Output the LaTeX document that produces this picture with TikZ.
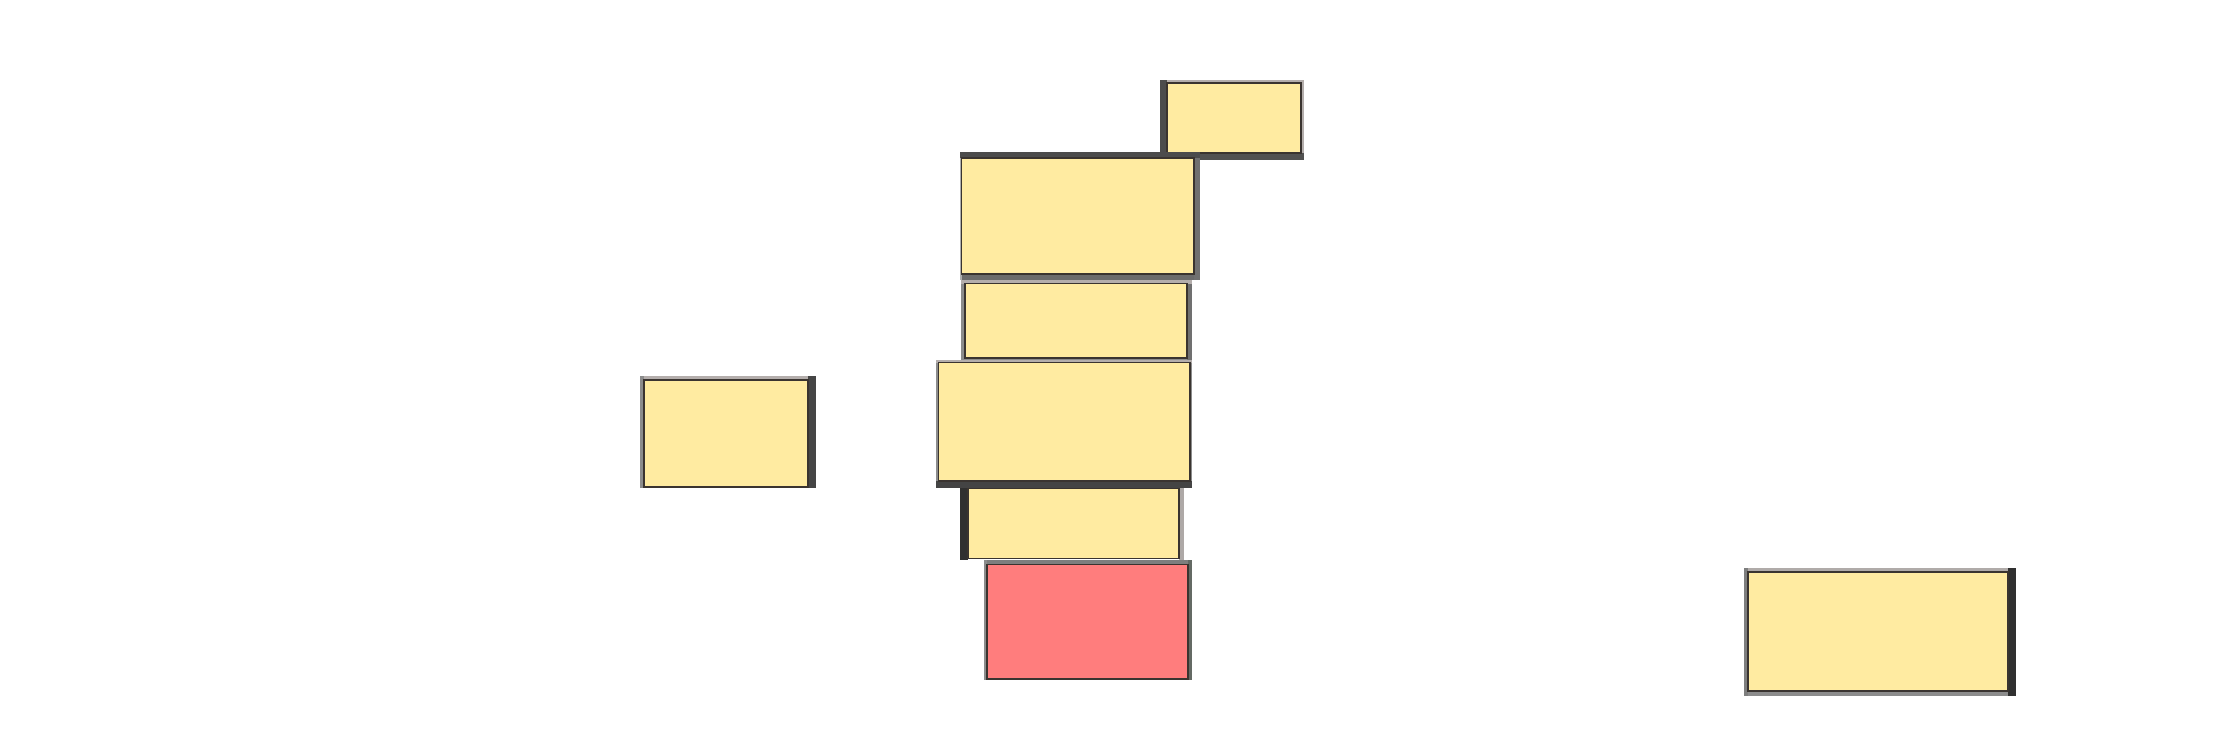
\documentclass[tikz,border=0pt]{standalone}
\usepackage{xcolor}
\usepackage{tikz}
\definecolor{cyel}{HTML}{FFEBA1}
\definecolor{cred}{HTML}{FF7D7D}
\definecolor{cline}{HTML}{3A3430}
\definecolor{glight}{HTML}{B4AEAC}
\definecolor{gmid}{HTML}{8C8C8C}
\definecolor{gsteel}{HTML}{707070}
\definecolor{gsage}{HTML}{646A64}
\definecolor{gdark}{HTML}{4C4C4C}
\definecolor{gblack}{HTML}{303030}
\tikzset{card/.style={draw=cline, line width=0.55pt}}

\begin{document}
\begin{tikzpicture}[x=0.01cm, y=-0.01cm]
\useasboundingbox (0,0) rectangle (2223,739);
\fill[white] (0,0) rectangle (2223,739);

% top small box
\fill[gdark] (1160,80) rectangle (1167,160);
\fill[glight] (1301,80) rectangle (1304,160);
\fill[glight] (1167,80) rectangle (1301,83);
\fill[gdark!85!gsteel] (1167,153) rectangle (1304,160);
\draw[card, fill=cyel] (1167,83) rectangle (1301,153);

% second box
\fill[gdark] (960,152) rectangle (1200,158);
\fill[gmid!70!white] (960,158) rectangle (961.5,280);
\fill[gsteel] (1194,158) rectangle (1200,280);
\fill[gsteel!85!gdark] (961.5,274) rectangle (1194,280);
\draw[card, fill=cyel] (961.5,158) rectangle (1194,274);

% third box
\fill[glight] (961,280) rectangle (1192,283.5);
\fill[gmid] (961,283.5) rectangle (965,360);
\fill[gsteel] (1187,283.5) rectangle (1192,360);
\fill[gmid] (965,358) rectangle (1187,360);
\draw[card, fill=cyel] (965,283.5) rectangle (1187,358);

% fourth box
\fill[glight] (936,360) rectangle (1192,362.5);
\fill[gmid] (936,362.5) rectangle (938.5,481);
\fill[gmid] (1190,362.5) rectangle (1192,481);
\fill[gdark!90!black] (936,481) rectangle (1192,487.5);
\draw[card, fill=cyel] (938.5,362.5) rectangle (1190,481);

% fifth box
\fill[gblack] (960,487.5) rectangle (968,560);
\fill[glight!85!gmid] (1179,487.5) rectangle (1184,560);
\draw[card, fill=cyel] (968,488.5) rectangle (1179,558.5);

% red box
\fill[gmid] (984,560) rectangle (987,680);
\fill[gsteel!90!white] (987,560) rectangle (1192,564.5);
\fill[gsage] (1188,560) rectangle (1192,680);
\draw[card, fill=cred] (987,564.5) rectangle (1188,679);

% left box
\fill[gmid] (640,376) rectangle (644,488);
\fill[glight] (644,376) rectangle (808,380);
\fill[gblack!90!white] (808,376) rectangle (816,488);
\draw[card, fill=cyel] (644,380) rectangle (808,487);

% right box
\fill[gmid!90!black] (1744,568) rectangle (1748,696);
\fill[glight!90!gmid] (1748,568) rectangle (2008,572);
\fill[gblack] (2008,568) rectangle (2016,696);
\fill[gmid] (1748,691) rectangle (2008,696);
\draw[card, fill=cyel] (1748,572) rectangle (2008,691);

\end{tikzpicture}
\end{document}
